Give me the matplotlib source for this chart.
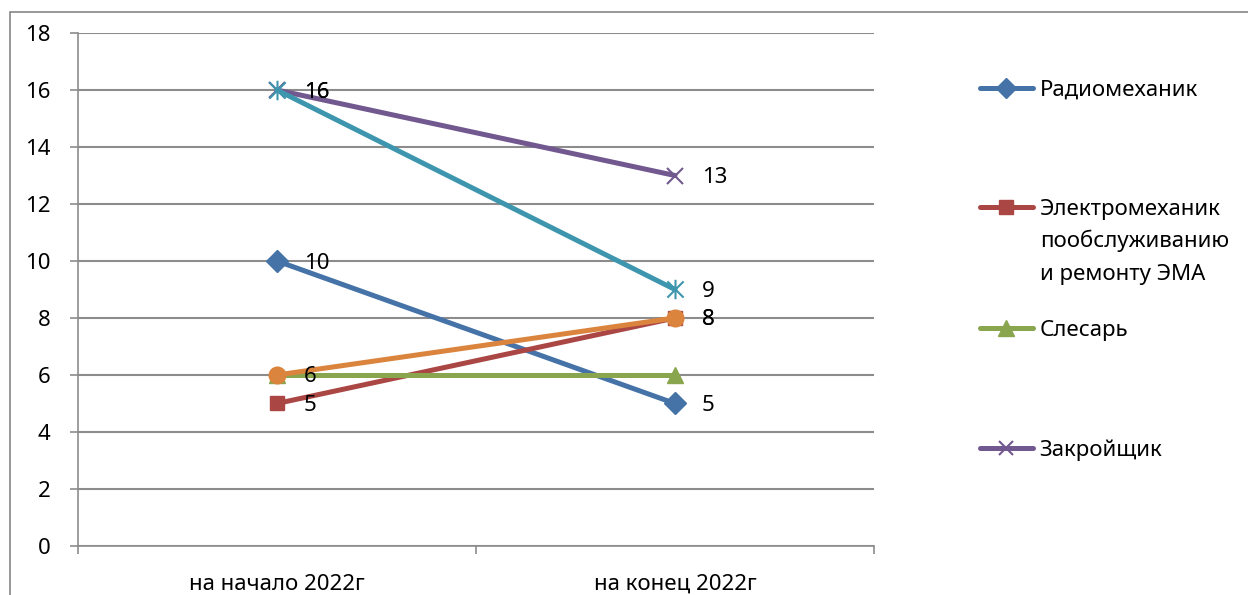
import numpy as np
import matplotlib.pyplot as plt
from matplotlib.lines import Line2D
from matplotlib.patches import Rectangle
from matplotlib.path import Path
from matplotlib.text import Annotation

plt.rcParams['font.family'] = ['Noto Sans', 'DejaVu Sans']

# данные
categories = ["на начало 2022г", "на конец 2022г"]
radio = [10, 5]
electro = [5, 8]
slesar = [6, 6]
zakroi = [16, 13]
teal_vals = [16, 9]
orange_vals = [6, 8]
y_ticks = list(range(0, 19, 2))

FS = 16

# маркер "звёздочка" как в Excel
star = Path([(-0.5, -0.5), (0.5, 0.5), (-0.5, 0.5), (0.5, -0.5), (0, -0.6), (0, 0.6)],
            [Path.MOVETO, Path.LINETO, Path.MOVETO, Path.LINETO, Path.MOVETO, Path.LINETO])

series = [
    # values, color, marker, size, label, show labels
    (radio, "#4572A7", "D", 11, "Радиомеханик", True),
    (electro, "#AA4643", "s", 10, "Электромеханик", True),
    (slesar, "#89A54E", "^", 12, "Слесарь", False),
    (zakroi, "#71588F", "x", 11, "Закройщик", True),
    (teal_vals, "#3D96AE", star, 14, None, True),
    (orange_vals, "#DB843D", "o", 12, None, True),
]

fig = plt.figure(figsize=(12.48, 5.95), dpi=100)
ax = fig.add_axes([0.0625, 0.0824, 0.6378, 0.8621])

grid_c = "#8c8c8c"
x = np.arange(len(categories))
handles = []
for vals, c, m, ms, lab, show in series:
    thin = m in ("x",) or m is star
    ln, = ax.plot(x, vals, color=c, lw=3.6, marker=m, ms=ms,
                  mec=c, mfc=c, mew=1.5 if thin else 1, solid_capstyle="round")
    handles.append((ln, lab))
    if show:
        for xi, v in zip(x, vals):
            ax.annotate(str(v), (xi, v), xytext=(27, -2), textcoords="offset pixels",
                        ha="left", va="center", fontsize=FS)

ax.set_xlim(-0.5, len(categories) - 0.5)
ax.set_ylim(0, 18)
ax.set_yticks(y_ticks)
ax.set_xticks([-0.5, 0.5, 1.5])
ax.set_xticklabels([])
ax.set_xticks(x, minor=True)
ax.set_xticklabels(categories, minor=True)
ax.tick_params(axis="x", which="minor", length=0, pad=20, labelsize=FS)
ax.tick_params(axis="x", which="major", length=6, color=grid_c, width=1.2)
ax.tick_params(axis="y", length=6, color=grid_c, width=1.2, pad=14, labelsize=FS)
ax.grid(axis="y", color=grid_c, lw=1.5)
ax.set_axisbelow(True)
for s in ("top", "right"):
    ax.spines[s].set_visible(False)
for s in ("left", "bottom"):
    ax.spines[s].set_color(grid_c)
    ax.spines[s].set_linewidth(1.2)

# легенда: каждая запись отдельно, как в Excel
leg_y = [0.849, 0.648, 0.445, 0.243]
for (ln, lab), ly in zip([h for h in handles if h[1]], leg_y):
    h = Line2D([], [], color=ln.get_color(), lw=3.6, marker=ln.get_marker(),
               ms=ln.get_markersize() * 0.95, mec=ln.get_color(), mfc=ln.get_color(),
               mew=ln.get_markeredgewidth(), solid_capstyle="round")
    leg = fig.legend([h], [lab], loc="center left", bbox_to_anchor=(0.785, ly),
                     frameon=False, fontsize=FS, handlelength=2.4, handletextpad=0.3,
                     borderpad=0, borderaxespad=0)
    if lab.startswith("Электро"):
        extra = Annotation("пообслуживанию\nи ремонту ЭМА", xy=(0, 0),
                           xycoords=leg.get_texts()[0], xytext=(0, -10),
                           textcoords="offset pixels", ha="left", va="top",
                           fontsize=FS, linespacing=1.72, annotation_clip=False)
        extra.set_zorder(10)
        fig.add_artist(extra)

# рамка области диаграммы
fig.patches.append(Rectangle((0.008, -0.05), 1.2, 1.03, transform=fig.transFigure,
                             fill=False, ec="#868686", lw=1.2, figure=fig))

fig.savefig("out.png", dpi=100)
